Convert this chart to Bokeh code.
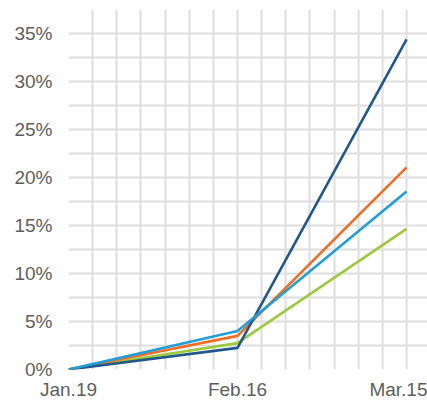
from bokeh.plotting import figure
from bokeh.models import FixedTicker, Range1d
from bokeh.embed import file_html
from bokeh.resources import INLINE

categories = ["Jan.19", "Feb.16", "Mar.15"]
x_pos = [0, 1, 2]
series_dark = [0, 2.25, 34.4]
series_orange = [0, 3.5, 21.05]
series_light = [0, 4.0, 18.55]
series_green = [0, 2.75, 14.65]
y_ticks = [0, 5, 10, 15, 20, 25, 30, 35]

p = figure(width=427, height=402, output_backend="svg", toolbar_location=None,
           x_range=Range1d(0, 2.124), y_range=Range1d(0, 37.5),
           min_border_left=68, min_border_right=0, min_border_top=9, min_border_bottom=31)
p.outline_line_color = None
p.background_fill_color = "white"
p.border_fill_color = "white"

# grid
p.xgrid.ticker = FixedTicker(ticks=[i / 7 for i in range(0, 15)])
p.ygrid.ticker = FixedTicker(ticks=[i * 2.5 for i in range(0, 16)])
for g in (p.xgrid, p.ygrid):
    g.grid_line_color = "#dddddd"
    g.grid_line_width = 2

# axes
p.xaxis.ticker = FixedTicker(ticks=x_pos)
p.xaxis.major_label_overrides = {x: c for x, c in zip(x_pos, categories)}
p.yaxis.ticker = FixedTicker(ticks=y_ticks)
p.yaxis.major_label_overrides = {t: f"{t}%" for t in y_ticks}
for ax in (p.xaxis, p.yaxis):
    ax.axis_line_color = None
    ax.major_tick_line_color = None
    ax.minor_tick_line_color = None
    ax.major_tick_out = 0
    ax.major_tick_in = 0
    ax.minor_tick_out = 0
    ax.major_label_text_font = "Liberation Sans"
    ax.major_label_text_font_size = "19px"
    ax.major_label_text_color = "#5e5e5e"
p.yaxis.major_label_standoff = 16
p.xaxis.major_label_standoff = 9

lw = 2.6
p.line(x_pos, series_green, line_color="#9dca3c", line_width=lw)
p.line(x_pos, series_orange, line_color="#f26c22", line_width=lw)
p.line(x_pos, series_dark, line_color="#22578c", line_width=lw)
p.line(x_pos, series_light, line_color="#1e9fdc", line_width=lw)

open("out.html", "w").write(file_html(p, INLINE))
